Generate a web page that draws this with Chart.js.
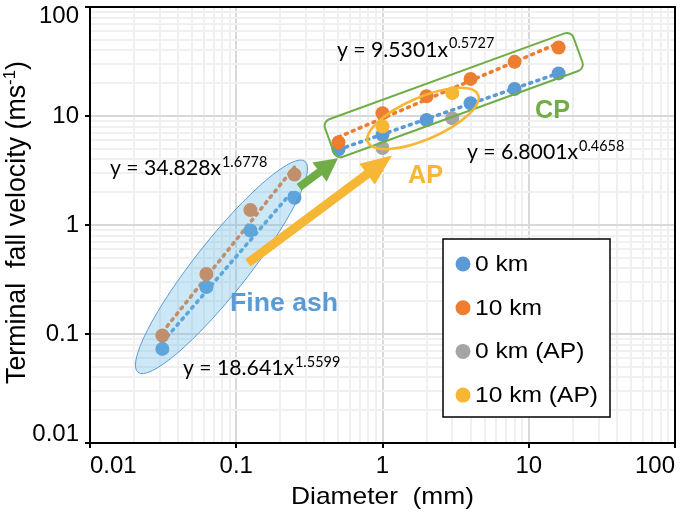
<!DOCTYPE html>
<html>
<head>
<meta charset="utf-8">
<script src="https://cdn.jsdelivr.net/npm/chart.js@4.4.1/dist/chart.umd.min.js"></script>
<style>
html,body{margin:0;padding:0;background:#fff;}
canvas{display:block;}
</style>
</head>
<body>
<canvas id="c" width="685" height="514"></canvas>
<script>
// ---------------- DATA ----------------
const diameters = [0.03125, 0.0625, 0.125, 0.25, 0.5, 1, 2, 4, 8, 16];
const vel0km    = [0.073, 0.27, 0.89, 1.78, 4.94, 6.73, 9.2, 13.1, 17.7, 24.6];
const vel10km   = [0.097, 0.355, 1.37, 2.90, 5.73, 10.6, 15.2, 21.9, 31.4, 42.5];
const apDiameters = [1, 3];
const vel0kmAP  = [5.08, 9.55];
const vel10kmAP = [8.0, 16.2];

// power-law trendline end points (fine ash / coarse particles)
const fineTrendD   = [0.03125, 0.25];
const fineTrend0   = [0.084, 2.14];
const fineTrend10  = [0.104, 3.40];
const cpTrendD     = [0.5, 16];
const cpTrend0     = [4.92, 24.7];
const cpTrend10    = [6.41, 46.6];

const seriesLabels = ['0 km', '10 km', '0 km (AP)', '10 km (AP)'];
const decadeTicks  = [0.01, 0.1, 1, 10, 100];
const xTickLabels  = ['0.01', '0.1', '1', '10', '100'];
const yTickLabels  = ['0.01', '0.1', '1', '10', '100'];

const eqCoefs = ['34.828', '9.5301', '6.8001', '18.641'];
const eqExps  = ['1.6778', '0.5727', '0.4658', '1.5599'];

// ---------------- STYLE ----------------
const COL = {blue:'#5B9BD5', orange:'#ED7D31', gray:'#A5A5A5', gold:'#F6B734', green:'#70AD47'};
const ARIAL = '"Liberation Sans", Arial, sans-serif';
const LATO  = 'Lato, "Liberation Sans", sans-serif';

// annotation anchors in data coordinates
const eqAnchors = [[0.0137, 2.861], [0.4886, 34.95], [3.783, 4.006], [0.04324, 0.04178]];
const annot = {
  fineEllipse: {p1:[0.0213, 0.0445], p2:[0.295, 3.84], hw:26.7},
  cpBox:       {p1:[0.434, 5.97], p2:[21.7, 40.5], hh:20, r:7},
  apEllipse:   {p1:[0.796, 5.73], p2:[4.50, 15.7], hw:21},
  greenArrow:  {from:[0.2686, 2.22], to:[0.496, 4.09], shaft:8, headLen:23, headHalf:12},
  goldArrow:   {from:[0.1203, 0.4498], to:[1.161, 4.33], shaft:9, headLen:31, headHalf:13},
  cpLabel:     {text:'CP', at:[11.03, 9.488], w:35, color:COL.green},
  apLabel:     {text:'AP', at:[1.494, 2.418], w:35, color:COL.gold},
  fineLabel:   {text:'Fine ash', at:[0.0907, 0.1639], w:108, color:COL.blue}
};

const pts = (xs, ys) => xs.map((x, i) => ({x: x, y: ys[i]}));

function allTicks() {
  const t = [];
  for (let i = 0; i < decadeTicks.length - 1; i++) {
    for (let k = 1; k <= 9; k++) t.push(+(decadeTicks[i] * k).toPrecision(6));
  }
  t.push(decadeTicks[decadeTicks.length - 1]);
  return t;
}
function isDecade(v) { const l = Math.log10(v); return Math.abs(l - Math.round(l)) < 1e-6; }
function decadeIndex(v) { return decadeTicks.findIndex(d => Math.abs(d - v) / d < 1e-6); }

// ---------------- DRAW HELPERS ----------------
function stretchText(ctx, str, x, y, font, sx, align, color) {
  ctx.save();
  ctx.font = font; ctx.fillStyle = color; ctx.textBaseline = 'alphabetic'; ctx.textAlign = align || 'left';
  ctx.translate(x, y); ctx.scale(sx, 1); ctx.fillText(str, 0, 0);
  ctx.restore();
}
function textW(ctx, str, font) { ctx.save(); ctx.font = font; const w = ctx.measureText(str).width; ctx.restore(); return w; }
function ellipsePath(ctx, a, b, hw) {
  const cx = (a.x + b.x) / 2, cy = (a.y + b.y) / 2;
  const ang = Math.atan2(b.y - a.y, b.x - a.x);
  const r = Math.hypot(b.x - a.x, b.y - a.y) / 2;
  ctx.beginPath(); ctx.ellipse(cx, cy, r, hw, ang, 0, Math.PI * 2);
}
function roundBoxPath(ctx, a, b, hh, rad) {
  const ang = Math.atan2(b.y - a.y, b.x - a.x);
  const len = Math.hypot(b.x - a.x, b.y - a.y);
  ctx.save(); ctx.translate(a.x, a.y); ctx.rotate(ang);
  ctx.beginPath();
  ctx.moveTo(rad, -hh); ctx.lineTo(len - rad, -hh); ctx.arcTo(len, -hh, len, -hh + rad, rad);
  ctx.lineTo(len, hh - rad); ctx.arcTo(len, hh, len - rad, hh, rad);
  ctx.lineTo(rad, hh); ctx.arcTo(0, hh, 0, hh - rad, rad);
  ctx.lineTo(0, -hh + rad); ctx.arcTo(0, -hh, rad, -hh, rad);
  ctx.closePath();
  ctx.restore();
}
function arrow(ctx, a, b, shaft, headLen, headHalf, color) {
  const ang = Math.atan2(b.y - a.y, b.x - a.x);
  const L = Math.hypot(b.x - a.x, b.y - a.y);
  ctx.save(); ctx.translate(a.x, a.y); ctx.rotate(ang);
  ctx.beginPath();
  ctx.moveTo(0, -shaft / 2); ctx.lineTo(L - headLen, -shaft / 2); ctx.lineTo(L - headLen, -headHalf);
  ctx.lineTo(L, 0); ctx.lineTo(L - headLen, headHalf); ctx.lineTo(L - headLen, shaft / 2);
  ctx.lineTo(0, shaft / 2); ctx.closePath();
  ctx.fillStyle = color; ctx.fill();
  ctx.restore();
}

const annotPlugin = {
  id: 'annot',
  afterDatasetsDraw(chart) {
    const ctx = chart.ctx, xs = chart.scales.x, ys = chart.scales.y;
    const P = (d) => ({x: xs.getPixelForValue(d[0]), y: ys.getPixelForValue(d[1])});

    // fine ash ellipse (translucent, over points)
    let e = annot.fineEllipse;
    ellipsePath(ctx, P(e.p1), P(e.p2), e.hw);
    ctx.fillStyle = 'rgba(100,185,232,0.33)'; ctx.fill();
    ctx.lineWidth = 1; ctx.strokeStyle = COL.blue; ctx.stroke();

    // CP box
    const bx = annot.cpBox;
    roundBoxPath(ctx, P(bx.p1), P(bx.p2), bx.hh, bx.r);
    ctx.lineWidth = 2; ctx.strokeStyle = COL.green; ctx.stroke();

    // AP ellipse
    e = annot.apEllipse;
    ellipsePath(ctx, P(e.p1), P(e.p2), e.hw);
    ctx.lineWidth = 2.5; ctx.strokeStyle = COL.gold; ctx.stroke();

    // arrows
    let ar = annot.greenArrow;
    arrow(ctx, P(ar.from), P(ar.to), ar.shaft, ar.headLen, ar.headHalf, COL.green);
    ar = annot.goldArrow;
    arrow(ctx, P(ar.from), P(ar.to), ar.shaft, ar.headLen, ar.headHalf, COL.gold);

    // equations
    const baseFont = '22px ' + LATO, supFont = '15px ' + LATO;
    const eqSx = 111 / textW(ctx, 'y = ' + eqCoefs[0] + 'x', baseFont);
    eqCoefs.forEach((c, i) => {
      const p = P(eqAnchors[i]);
      const base = 'y = ' + c + 'x';
      stretchText(ctx, base, p.x, p.y, baseFont, eqSx, 'left', '#000');
      const bw = textW(ctx, base, baseFont) * eqSx;
      stretchText(ctx, eqExps[i], p.x + bw + 1, p.y - 8.5, supFont, eqSx, 'left', '#000');
    });

    // bold region labels
    [annot.cpLabel, annot.apLabel, annot.fineLabel].forEach(l => {
      const f = 'bold 25px ' + ARIAL;
      const p = P(l.at);
      stretchText(ctx, l.text, p.x, p.y, f, l.w / textW(ctx, l.text, f), 'left', l.color);
    });
  },
  afterDraw(chart) {
    const ctx = chart.ctx, ca = chart.chartArea;
    // top / right frame
    ctx.save();
    ctx.strokeStyle = '#000'; ctx.lineWidth = 2;
    ctx.beginPath();
    ctx.moveTo(ca.left, ca.top); ctx.lineTo(ca.right, ca.top); ctx.lineTo(ca.right, ca.bottom);
    ctx.stroke();
    ctx.restore();

    // legend (in series order)
    const lg = {left: ca.left + 353, top: ca.top + 232, w: 167, h: 178, row0: 25, gap: 43.7, mdx: 20, tdx: 32};
    ctx.save();
    ctx.fillStyle = '#fff'; ctx.fillRect(lg.left, lg.top, lg.w, lg.h);
    ctx.strokeStyle = '#000'; ctx.lineWidth = 1.5; ctx.strokeRect(lg.left, lg.top, lg.w, lg.h);
    ctx.restore();
    const lf = '22px ' + ARIAL;
    const lsx = 123 / textW(ctx, seriesLabels[3], lf);
    const items = chart.data.datasets.filter(d => d.inLegend)
      .sort((a, b) => seriesLabels.indexOf(a.label) - seriesLabels.indexOf(b.label));
    items.forEach((d, i) => {
      const cy = lg.top + lg.row0 + i * lg.gap;
      ctx.beginPath(); ctx.arc(lg.left + lg.mdx, cy, 7.5, 0, Math.PI * 2);
      ctx.fillStyle = d.backgroundColor; ctx.fill();
      stretchText(ctx, d.label, lg.left + lg.tdx, cy + 7, lf, lsx, 'left', '#000');
    });

    // axis titles
    const xf = '24px ' + ARIAL;
    const xt = 'Diameter  (mm)';
    stretchText(ctx, xt, (ca.left + ca.right) / 2, ca.bottom + 61, xf, 183 / textW(ctx, xt, xf), 'center', '#000');

    const yf = '27px ' + ARIAL, ysf = '17px ' + ARIAL;
    const y1 = 'Terminal  fall velocity (ms', y2 = '-1', y3 = ')';
    const w1 = textW(ctx, y1, yf), w2 = textW(ctx, y2, ysf), w3 = textW(ctx, y3, yf);
    const tot = w1 + w2 + w3, ysx = 323 / tot;
    ctx.save();
    ctx.translate(ca.left - 65, (ca.top + ca.bottom) / 2 - 2.5);
    ctx.rotate(-Math.PI / 2);
    ctx.scale(ysx, 1);
    ctx.fillStyle = '#000'; ctx.textBaseline = 'alphabetic'; ctx.textAlign = 'left';
    let x0 = -tot / 2;
    ctx.font = yf; ctx.fillText(y1, x0, 0); x0 += w1;
    ctx.font = ysf; ctx.fillText(y2, x0, -10); x0 += w2;
    ctx.font = yf; ctx.fillText(y3, x0, 0);
    ctx.restore();
  }
};

const dotted = {borderDash: [2, 5.5], borderCapStyle: 'round', borderWidth: 3.6};

const chart = new Chart(document.getElementById('c'), {
  type: 'scatter',
  data: {
    datasets: [
      {label: seriesLabels[3], inLegend: true, data: pts(apDiameters, vel10kmAP), backgroundColor: COL.gold, pointRadius: 7, pointBorderWidth: 0, order: 0},
      {label: seriesLabels[2], inLegend: true, data: pts(apDiameters, vel0kmAP),  backgroundColor: COL.gray, pointRadius: 7, pointBorderWidth: 0, order: 1},
      {label: seriesLabels[1], inLegend: true, data: pts(diameters, vel10km),     backgroundColor: COL.orange, pointRadius: 7, pointBorderWidth: 0, order: 2},
      {label: seriesLabels[0], inLegend: true, data: pts(diameters, vel0km),      backgroundColor: COL.blue, pointRadius: 7, pointBorderWidth: 0, order: 3},
      Object.assign({label: 'trend fine 0', data: pts(fineTrendD, fineTrend0), showLine: true, borderColor: COL.blue, pointRadius: 0, order: 5}, dotted),
      Object.assign({label: 'trend fine 10', data: pts(fineTrendD, fineTrend10), showLine: true, borderColor: COL.orange, pointRadius: 0, order: 5}, dotted),
      Object.assign({label: 'trend cp 0', data: pts(cpTrendD, cpTrend0), showLine: true, borderColor: COL.blue, pointRadius: 0, order: 5}, dotted),
      Object.assign({label: 'trend cp 10', data: pts(cpTrendD, cpTrend10), showLine: true, borderColor: COL.orange, pointRadius: 0, order: 5}, dotted)
    ]
  },
  options: {
    responsive: false,
    animation: false,
    events: [],
    layout: {padding: {top: 5, right: 10, left: 0, bottom: 0}},
    plugins: {legend: {display: false}, tooltip: {enabled: false}},
    scales: {
      x: {
        type: 'logarithmic', min: 0.01, max: 100, position: 'bottom',
        afterBuildTicks: s => { s.ticks = allTicks().map(v => ({value: v})); },
        afterFit: s => { s.height = 71; s.paddingLeft = 0; s.paddingRight = 0; },
        ticks: {
          autoSkip: false, maxRotation: 0, minRotation: 0, padding: 4, align: 'inner',
          color: '#000', font: {family: ARIAL, size: 24},
          callback: v => { const i = decadeIndex(v); return i >= 0 ? xTickLabels[i] : ''; }
        },
        grid: {
          color: c => isDecade(c.tick.value) ? '#D9D9D9' : '#F0F0F0',
          lineWidth: 2, tickLength: 5, tickWidth: 2,
          tickColor: c => isDecade(c.tick.value) ? '#000' : 'rgba(0,0,0,0)'
        },
        border: {display: true, color: '#000', width: 2}
      },
      y: {
        type: 'logarithmic', min: 0.01, max: 100, position: 'left',
        afterBuildTicks: s => { s.ticks = allTicks().map(v => ({value: v})); },
        afterFit: s => { s.width = 90; s.paddingTop = 0; s.paddingBottom = 0; },
        ticks: {
          autoSkip: false, padding: 6,
          color: '#000', font: {family: ARIAL, size: 24, lineHeight: 0.75},
          callback: v => {
            const i = decadeIndex(v);
            if (i < 0) return '';
            if (i === decadeTicks.length - 1) return ['', yTickLabels[i]];
            if (i === 0) return [yTickLabels[i], ''];
            return yTickLabels[i];
          }
        },
        grid: {
          color: c => isDecade(c.tick.value) ? '#D9D9D9' : '#F0F0F0',
          lineWidth: 2, tickLength: 5, tickWidth: 2,
          tickColor: c => isDecade(c.tick.value) ? '#000' : 'rgba(0,0,0,0)'
        },
        border: {display: true, color: '#000', width: 2}
      }
    }
  },
  plugins: [annotPlugin]
});
</script>
</body>
</html>
